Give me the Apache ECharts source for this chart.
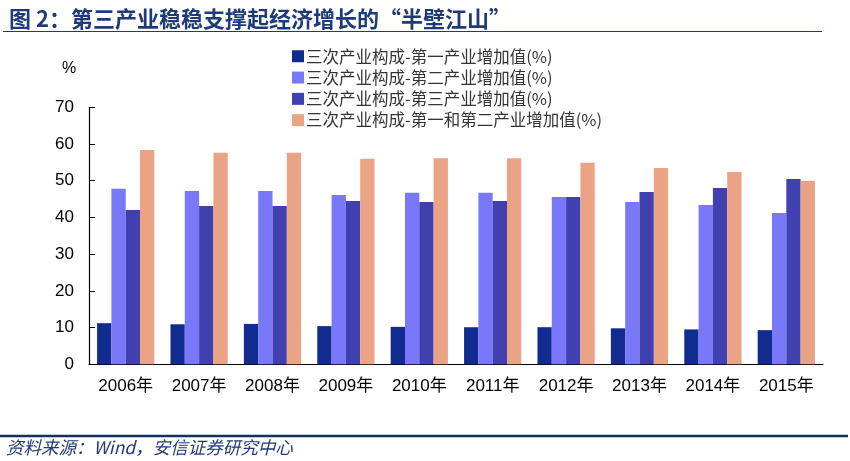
<!DOCTYPE html>
<html>
<head>
<meta charset="utf-8">
<script src="https://cdn.jsdelivr.net/npm/echarts@6/dist/echarts.min.js"></script>
<style>
html,body{margin:0;padding:0;background:#fff;}
#c{width:850px;height:461px;}
</style>
</head>
<body>
<div id="c"></div>
<script>
var categories = ['2006年','2007年','2008年','2009年','2010年','2011年','2012年','2013年','2014年','2015年'];
var primary = [11.2, 10.9, 11.0, 10.4, 10.2, 10.1, 10.1, 9.8, 9.5, 9.3];
var secondary = [47.8, 47.2, 47.2, 46.1, 46.7, 46.7, 45.6, 44.2, 43.4, 41.2];
var tertiary = [42.0, 43.1, 43.1, 44.5, 44.2, 44.5, 45.6, 46.9, 48.0, 50.5];
var primarySecondary = [58.4, 57.6, 57.6, 56.0, 56.1, 56.1, 54.9, 53.5, 52.4, 50.0];
var seriesNames = ['三次产业构成-第一产业增加值(%)','三次产业构成-第二产业增加值(%)','三次产业构成-第三产业增加值(%)','三次产业构成-第一和第二产业增加值(%)'];
var colors = ['#112B8E','#7878F8','#4040B0','#EAA384'];

var chart = echarts.init(document.getElementById('c'), null, {renderer:'canvas'});
var fontLatin = 'Arial, "Liberation Sans", "Noto Sans CJK SC", sans-serif';
var vals = [primary, secondary, tertiary, primarySecondary];
var series = vals.map(function(d,i){
  return {
    name: seriesNames[i], type:'bar', data:d,
    barGap:'0%', barCategoryGap:'22%',
    itemStyle:{color:colors[i]},
    emphasis:{disabled:true}
  };
});
chart.setOption({
  animation:false,
  title:{
    text:'图 2：第三产业稳稳支撑起经济增长的“半壁江山”',
    left:4, top:3,
    textStyle:{fontSize:22, fontWeight:'bold', color:'#1F3A78', fontFamily:'"Noto Sans CJK SC", sans-serif'}
  },
  graphic:[
    {type:'line', shape:{x1:3,y1:31.5,x2:822,y2:31.5}, style:{stroke:'#1F3A6E', lineWidth:1.2}},
    {type:'line', shape:{x1:0,y1:436,x2:848,y2:436}, style:{stroke:'#14305F', lineWidth:2.4}},
    {type:'text', left:6, top:439, style:{text:'资料来源：Wind，安信证券研究中心', font:'italic 17.5px "Noto Sans CJK SC", sans-serif', fill:'#1F3A78'}},
    {type:'text', left:62, top:61, style:{text:'%', font:'16px Arial, "Liberation Sans", sans-serif', fill:'#000'}}
  ],
  legend:{
    orient:'vertical', left:287, top:43,
    itemWidth:12, itemHeight:12, itemGap:4.8,
    icon:'rect',
    textStyle:{fontSize:16.5, color:'#333', fontFamily:'"Noto Sans CJK SC", sans-serif', padding:[0,0,0,-3]},
    data:seriesNames
  },
  grid:{left:89, right:27, top:107.3, bottom:96.7, containLabel:false},
  xAxis:{
    type:'category', data:categories,
    axisLine:{lineStyle:{color:'#000', width:1.2}},
    axisTick:{inside:true, length:6, lineStyle:{color:'#000'}},
    axisLabel:{fontSize:17, color:'#000', margin:14, fontFamily:fontLatin},
    splitLine:{show:false}
  },
  yAxis:{
    type:'value', min:0, max:70, interval:10,
    axisLine:{show:true, lineStyle:{color:'#000', width:1.2}},
    axisTick:{show:true, inside:true, length:6, lineStyle:{color:'#000'}},
    axisLabel:{fontSize:17, color:'#000', margin:15, fontFamily:fontLatin},
    splitLine:{show:false}
  },
  series:series
});
</script>
</body>
</html>
